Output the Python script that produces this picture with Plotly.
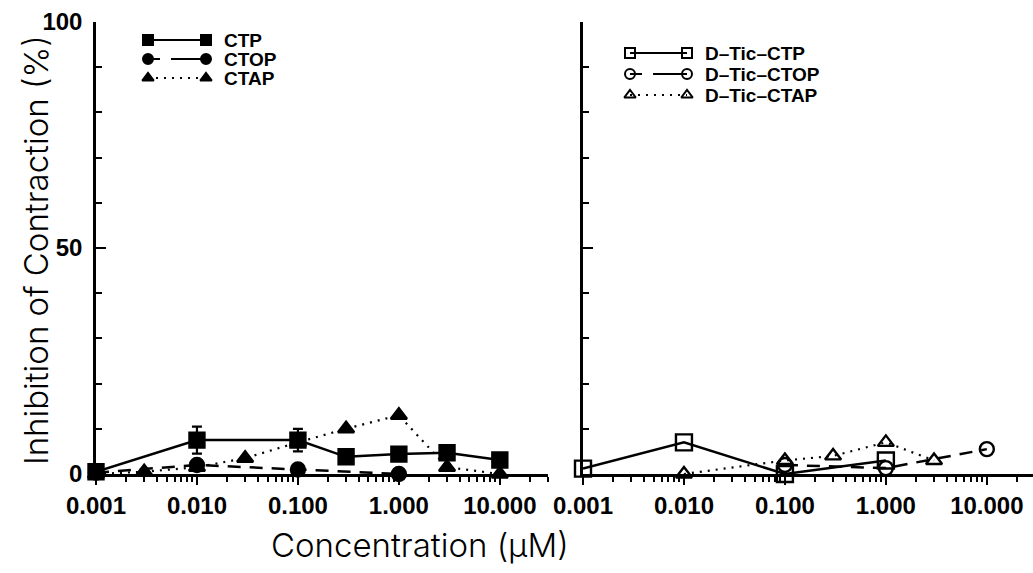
import math
import plotly.graph_objects as go

W, H = 1033, 573

# ---------------- data ----------------
tick_vals = [0.001, 0.01, 0.1, 1, 10]
tick_text = ["0.001", "0.010", "0.100", "1.000", "10.000"]
y_tick_vals = [0, 50, 100]

ctp_x = [0.001, 0.01, 0.1, 0.3, 1, 3, 10]
ctp_y = [0.5, 7.5, 7.5, 3.8, 4.4, 4.7, 3.1]
ctp_err = [0, 3, 2.5, 0, 0, 0, 0]

ctop_x = [0.001, 0.01, 0.1, 1]
ctop_y = [0.3, 2.0, 1.0, 0.0]

ctap_x = [0.001, 0.003, 0.01, 0.03, 0.1, 0.3, 1, 3, 10]
ctap_y = [0.0, 0.5, 1.5, 3.5, 7.0, 10.0, 13.0, 1.5, 0.0]

dtctp_x = [0.001, 0.01, 0.1, 1]
dtctp_y = [1.2, 7.0, 0.0, 3.0]

dtctop_x = [0.1, 1, 10]
dtctop_y = [2.0, 1.3, 5.5]

dtctap_x = [0.01, 0.1, 0.3, 1, 3]
dtctap_y = [0.0, 3.0, 4.0, 7.0, 3.0]

left_names = ["CTP", "CTOP", "CTAP"]
right_names = ["D\u2013Tic\u2013CTP", "D\u2013Tic\u2013CTOP", "D\u2013Tic\u2013CTAP"]

# ---------------- styles ----------------
BLACK = "black"
SOLID = "solid"
DASH = "13px,9px"
DOT = "2px,6px"
TICK_FONT = dict(family="Liberation Sans", size=24, color=BLACK, weight="bold")
TITLE_FONT = dict(family="Inter", size=33, color=BLACK, weight=300)
LEG_FONT = dict(family="Liberation Sans", size=19, color=BLACK, weight="bold")

fig = go.Figure()

def add_series(x, y, xa, ya, symbol, size, dash, err=None, line_w=2.5):
    kw = {}
    if err is not None:
        kw["error_y"] = dict(type="data", array=err, visible=True,
                             color=BLACK, thickness=2.2, width=5)
    fig.add_trace(go.Scatter(
        x=x, y=y, xaxis=xa, yaxis=ya, mode="lines+markers",
        line=dict(color=BLACK, width=line_w, dash=dash),
        marker=dict(symbol=symbol, size=size, color=BLACK,
                    line=dict(color=BLACK, width=2.4)),
        cliponaxis=False, showlegend=False, **kw))

# left panel
add_series(ctap_x, ctap_y, "x", "y", "triangle-up", 14, DOT, line_w=2.2)
add_series(ctop_x, ctop_y, "x", "y", "circle", 14, DASH)
add_series(ctp_x, ctp_y, "x", "y", "square", 15, SOLID, err=ctp_err)

# right panel
add_series(dtctap_x, dtctap_y, "x2", "y2", "triangle-up-open", 14, DOT, line_w=2.2)
add_series(dtctop_x, dtctop_y, "x2", "y2", "circle-open", 14, DASH)
add_series(dtctp_x, dtctp_y, "x2", "y2", "square-open", 16, SOLID)

# ---------------- legend glyphs (helper pixel axis) ----------------
LEG_L = dict(x0=148, x1=206, tx=222, rows=[40, 59, 78],
             symbols=["square", "circle", "triangle-up"])
LEG_R = dict(x0=630, x1=687, tx=703, rows=[53, 74, 95],
             symbols=["square-open", "circle-open", "triangle-up-open"])
dashes = [SOLID, "12px,11px,40px", DOT]

annotations = []
for leg, names in ((LEG_L, left_names), (LEG_R, right_names)):
    for i, (row, sym, name) in enumerate(zip(leg["rows"], leg["symbols"], names)):
        fig.add_trace(go.Scatter(
            x=[leg["x0"], leg["x1"]], y=[row, row], xaxis="x3", yaxis="y3",
            mode="lines+markers",
            line=dict(color=BLACK, width=2, dash=dashes[i]),
            marker=dict(symbol=sym, size=10, color=BLACK,
                        line=dict(color=BLACK, width=2)),
            cliponaxis=False, showlegend=False, hoverinfo="skip"))
        annotations.append(dict(x=leg["tx"], y=row, xref="x3", yref="y3",
                                text=name, showarrow=False, xanchor="left",
                                yanchor="middle", font=LEG_FONT))

# axis titles
annotations.append(dict(x=36 / W, y=1 - 250 / H, xref="paper", yref="paper",
                        text="Inhibition of Contraction (%)", textangle=-90,
                        showarrow=False, xanchor="center", yanchor="middle",
                        font=TITLE_FONT))
annotations.append(dict(x=420 / W, y=1 - 545 / H, xref="paper", yref="paper",
                        text="Concentration (\u03bcM)", showarrow=False,
                        xanchor="center", yanchor="middle", font=TITLE_FONT))

# ---------------- axes ----------------
minor_vals = []
for e in range(-3, 2):
    for m in range(2, 10):
        v = m * 10 ** e
        if v <= 30:
            minor_vals.append(v)

y_bot, y_top = 1 - 474 / H, 1 - 22 / H
px_per_dec = (548 - 96) / (math.log10(30) + 3)

xcommon = dict(type="log", showline=True, linewidth=2.5, linecolor=BLACK,
               ticks="outside", ticklen=8, tickwidth=2, tickcolor=BLACK,
               tickvals=tick_vals, ticktext=tick_text, tickfont=TICK_FONT,
               showgrid=False, zeroline=False, automargin=False,
               minor=dict(ticks="outside", ticklen=5, tickwidth=1.5,
                          tickcolor=BLACK, tickmode="array",
                          tickvals=minor_vals, showgrid=False))
ycommon = dict(range=[0, 100], showline=True, linewidth=2.5, linecolor=BLACK,
               ticks="inside", ticklen=10, tickwidth=2, tickcolor=BLACK,
               tickvals=y_tick_vals, tickfont=TICK_FONT, ticklabelstandoff=6,
               showgrid=False, zeroline=False, automargin=False,
               minor=dict(ticks="inside", ticklen=6, tickwidth=1.5,
                          tickcolor=BLACK, dtick=10, showgrid=False))

fig.update_layout(
    width=W, height=H,
    margin=dict(l=0, r=0, t=0, b=0, pad=0, autoexpand=False),
    paper_bgcolor="white", plot_bgcolor="rgba(0,0,0,0)",
    showlegend=False,
    xaxis=dict(domain=[96 / W, 548 / W], range=[-3, math.log10(30)],
               anchor="y", **xcommon),
    yaxis=dict(domain=[y_bot, y_top], anchor="x", **ycommon),
    xaxis2=dict(domain=[583 / W, 1.0],
                range=[-3, -3 + (W - 583) / px_per_dec],
                anchor="y2", **xcommon),
    yaxis2=dict(domain=[y_bot, y_top], anchor="x2", showticklabels=False,
                **ycommon),
    xaxis3=dict(domain=[0, 1], range=[0, W], anchor="y3", visible=False,
                fixedrange=True),
    yaxis3=dict(domain=[0, 1], range=[H, 0], anchor="x3", visible=False,
                fixedrange=True),
    annotations=annotations,
)

fig.write_html("out.html")
